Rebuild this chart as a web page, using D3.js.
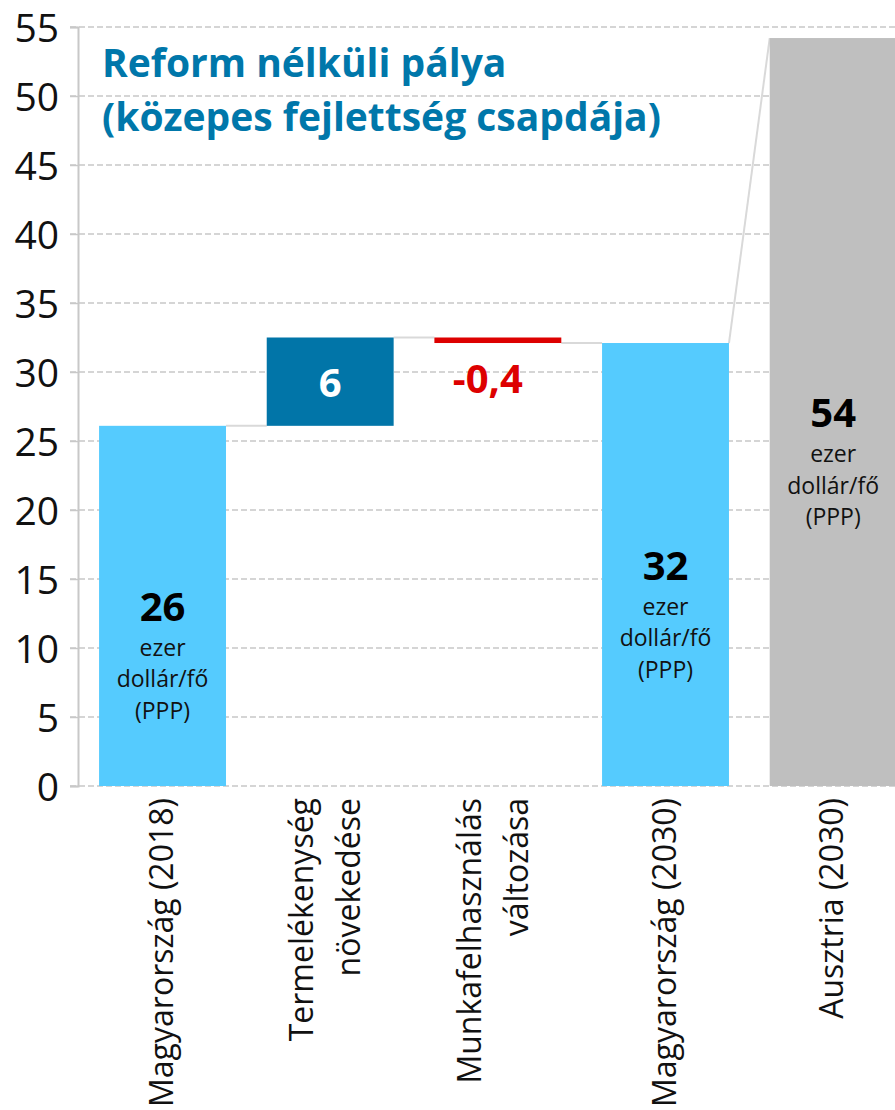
<!DOCTYPE html>
<html>
<head>
<meta charset="utf-8">
<style>
  body { margin: 0; background: #fff; }
  text { font-family: "Open Sans", "DejaVu Sans", sans-serif; }
  .grid line { stroke: #c8c8c8; stroke-width: 1.5px; stroke-dasharray: 6,3; }
</style>
<script src="https://d3js.org/d3.v7.min.js"></script>
</head>
<body>
<div id="chart"></div>
<script>
// categories (each label broken into lines as in the original)
var categories = ["hu2018", "prod", "labour", "hu2030", "at2030"];
var categoryLines = [
  ["Magyarország (2018)"],
  ["Termelékenység", "növekedése"],
  ["Munkafelhasználás", "változása"],
  ["Magyarország (2030)"],
  ["Ausztria (2030)"]
];
// waterfall: starting level, change, then totals
var hungary2018 = 26.1;
var productivityChange = 6.4;
var labourChange = -0.4;
var hungary2030 = 32.1;
var austria2030 = 54.2;

var valueLabels = ["26", "6", "-0,4", "32", "54"];
var unitLines = ["ezer", "dollár/fő", "(PPP)"];
var yTicks = [0, 5, 10, 15, 20, 25, 30, 35, 40, 45, 50, 55];
var titleLines = ["Reform nélküli pálya", "(közepes fejlettség csapdája)"];

var colors = ["#55cbfe", "#0175a8", "#dd0000", "#55cbfe", "#bfbfbf"];

// build the bar table (start/end of each bar)
var bars = [
  {key: "hu2018", y0: 0, y1: hungary2018},
  {key: "prod", y0: hungary2018, y1: hungary2018 + productivityChange},
  {key: "labour", y0: hungary2018 + productivityChange, y1: hungary2018 + productivityChange + labourChange},
  {key: "hu2030", y0: 0, y1: hungary2030},
  {key: "at2030", y0: 0, y1: austria2030}
];
bars.forEach(function(d, i) { d.color = colors[i]; d.label = valueLabels[i]; d.lines = categoryLines[i]; });

var width = 895, height = 1110;

var svg = d3.select("#chart")
  .append("svg")
    .attr("width", width)
    .attr("height", height);

var x = d3.scaleBand()
  .domain(categories)
  .range([78.7, 917])
  .paddingInner(0.243)
  .paddingOuter(0.1215);

var y = d3.scaleLinear()
  .domain([0, 55])
  .range([786, 27]);

// gridlines
svg.append("g")
  .attr("class", "grid")
  .selectAll("line")
  .data(yTicks)
  .join("line")
    .attr("x1", 70)
    .attr("x2", width)
    .attr("y1", function(d) { return y(d); })
    .attr("y2", function(d) { return y(d); });

// Y axis
var yAxis = svg.append("g")
  .attr("transform", "translate(78,0)")
  .call(d3.axisLeft(y).tickValues(yTicks).tickSize(8).tickPadding(11));
yAxis.select(".domain").attr("stroke", "#c8c8c8").attr("stroke-width", 2);
yAxis.selectAll(".tick line").attr("stroke", "#c8c8c8").attr("stroke-width", 1.5);
yAxis.selectAll(".tick text")
  .attr("fill", "#111")
  .attr("dy", "0.36em")
  .style("font-size", "39px")
  .style("font-family", "'Open Sans', sans-serif");

// connector lines
var connectors = svg.append("g")
  .attr("stroke", "#d9d9d9")
  .attr("stroke-width", 2)
  .attr("fill", "none");
for (var i = 0; i < 3; i++) {
  connectors.append("line")
    .attr("x1", x(categories[i]) + x.bandwidth())
    .attr("x2", x(categories[i + 1]))
    .attr("y1", y(bars[i].y1))
    .attr("y2", y(bars[i].y1));
}
connectors.append("line")
  .attr("x1", x("hu2030") + x.bandwidth())
  .attr("y1", y(hungary2030))
  .attr("x2", x("at2030"))
  .attr("y2", y(austria2030));

// bars
svg.selectAll(".bar")
  .data(bars)
  .join("rect")
    .attr("class", "bar")
    .attr("x", function(d) { return x(d.key); })
    .attr("width", x.bandwidth())
    .attr("y", function(d) { return y(Math.max(d.y0, d.y1)); })
    .attr("height", function(d) { return Math.abs(y(d.y0) - y(d.y1)); })
    .attr("fill", function(d) { return d.color; });

// total bars: big number + unit
[bars[0], bars[3], bars[4]].forEach(function(d) {
  var cx = x(d.key) + x.bandwidth() / 2;
  var mid = (y(d.y1) + y(0)) / 2;
  svg.append("text")
    .attr("x", cx)
    .attr("y", mid + 15)
    .attr("text-anchor", "middle")
    .style("font-size", "40px")
    .style("font-weight", "bold")
    .attr("fill", "#000")
    .text(d.label);
  unitLines.forEach(function(t, j) {
    svg.append("text")
      .attr("x", cx)
      .attr("y", mid + 50 + j * 31.5)
      .attr("text-anchor", "middle")
      .style("font-size", "23px")
      .attr("fill", "#111")
      .text(t);
  });
});

// change labels
svg.append("text")
  .attr("x", x("prod") + x.bandwidth() / 2)
  .attr("y", (y(bars[1].y0) + y(bars[1].y1)) / 2 + 15)
  .attr("text-anchor", "middle")
  .style("font-size", "40px")
  .style("font-weight", "bold")
  .attr("fill", "#fff")
  .text(bars[1].label);

svg.append("text")
  .attr("x", x("labour") + x.bandwidth() / 2 - 10)
  .attr("y", y(bars[2].y1) + 50)
  .attr("text-anchor", "middle")
  .style("font-size", "40px")
  .style("font-weight", "bold")
  .attr("fill", "#dd0000")
  .text(bars[2].label);

// category labels (rotated)
bars.forEach(function(d) {
  var cx = x(d.key) + x.bandwidth() / 2;
  var g = svg.append("g")
    .attr("transform", "translate(" + cx + ",798) rotate(-90)");
  var offsets = d.lines.length === 1 ? [10] : [-17, 30];
  d.lines.forEach(function(t, j) {
    g.append("text")
      .attr("x", 0)
      .attr("y", offsets[j])
      .attr("text-anchor", "end")
      .style("font-size", "32px")
      .attr("fill", "#111")
      .text(t);
  });
});

// title
titleLines.forEach(function(t, j) {
  svg.append("text")
    .attr("x", 102)
    .attr("y", 77 + j * 54)
    .style("font-size", "39px")
    .style("font-weight", "bold")
    .attr("fill", "#0077aa")
    .text(t);
});
</script>
</body>
</html>
